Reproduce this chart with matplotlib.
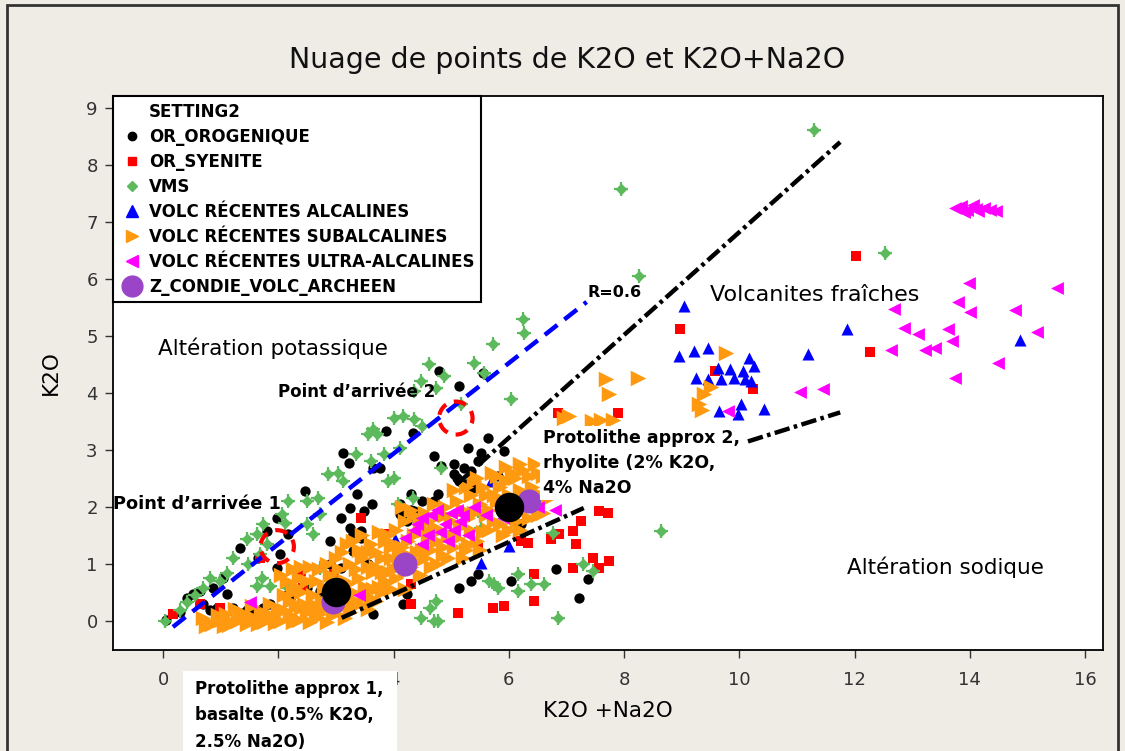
import matplotlib
matplotlib.use("Agg")
import matplotlib.pyplot as plt
from matplotlib.lines import Line2D
from matplotlib.patches import Circle, Rectangle

# ---------------- data ----------------
oro_x = [4.78, 5.55, 5.13, 4.33, 5.63, 4.70, 5.29, 5.51, 5.22, 5.04, 5.13, 5.34, 4.82, 3.13, 3.22,
         3.77, 2.47, 3.25, 3.48, 3.63, 4.30, 4.35, 4.70, 4.77, 3.30, 3.43, 4.12, 4.24, 3.08, 2.90,
         3.30, 3.55, 3.08, 2.90, 2.16, 1.81, 1.98, 1.34, 1.65, 2.03, 2.38, 1.98, 1.04, 0.87, 0.64,
         0.42, 1.11, 0.82, 1.22, 1.39, 1.57, 1.86, 2.16, 2.50, 5.13, 5.46, 3.65, 4.24, 4.17, 0.52,
         0.70, 0.94, 1.46, 1.74, 2.21, 2.73, 5.81, 5.37, 5.04, 5.10, 5.25, 6.21, 5.34, 6.03, 6.82,
         7.37, 7.22, 3.37, 3.25, 3.43, 4.12, 4.30, 4.45, 4.50, 5.46, 5.91, 3.86, 3.65, 0.05, 0.30]
oro_y = [4.39, 4.35, 4.12, 3.30, 3.21, 2.89, 3.04, 2.95, 2.68, 2.58, 2.46, 2.63, 2.72, 2.95, 2.77,
         2.68, 2.28, 1.98, 1.93, 2.05, 2.23, 1.93, 2.10, 2.23, 1.53, 1.58, 1.88, 1.75, 1.81, 1.40,
         1.23, 1.00, 0.93, 1.00, 1.53, 1.58, 1.81, 1.28, 1.11, 1.18, 0.82, 0.93, 0.75, 0.58, 0.53,
         0.40, 0.47, 0.18, 0.23, 0.14, 0.18, 0.30, 0.47, 0.58, 0.58, 0.82, 0.12, 0.47, 0.30, 0.47,
         0.30, 0.23, 0.18, 0.23, 0.40, 0.53, 2.54, 2.33, 2.75, 2.50, 2.40, 1.70, 0.70, 0.70, 0.91,
         0.74, 0.40, 2.23, 1.63, 1.46, 2.05, 1.95, 1.85, 2.10, 2.81, 2.98, 3.33, 2.68, 0.02, 0.15]

sye_x = [7.72, 7.57, 7.25, 7.11, 6.87, 6.73, 7.17, 7.46, 7.74, 7.57, 7.11, 6.43, 6.43, 5.91, 6.21,
         3.43, 3.83, 5.72, 5.11, 4.30, 4.30, 6.33, 5.46, 2.96, 1.69, 2.38, 0.99, 0.64, 0.17, 2.43,
         6.85, 7.90, 8.97, 9.57, 10.24, 12.02, 12.26]
sye_y = [1.89, 1.93, 1.75, 1.58, 1.53, 1.44, 1.35, 1.11, 1.05, 0.93, 0.93, 0.82, 0.35, 0.26, 1.40,
         1.81, 1.53, 0.23, 0.14, 0.30, 0.65, 1.37, 1.28, 0.82, 1.11, 0.79, 0.23, 0.30, 0.12, 0.58,
         3.65, 3.65, 5.12, 4.39, 4.07, 6.40, 4.72]

vms_x = [11.30, 7.95, 8.26, 12.52, 6.24, 6.26, 5.72, 5.39, 5.57, 6.03, 4.61, 4.87, 4.73, 4.47, 4.35,
         4.17, 4.00, 4.35, 4.50, 3.65, 3.55, 3.72, 4.12, 3.34, 3.60, 3.83, 2.87, 3.04, 3.13, 3.90,
         4.00, 4.82, 4.07, 4.33, 2.68, 2.50, 2.73, 2.17, 2.07, 2.12, 2.50, 2.61, 1.74, 1.63, 1.46,
         1.81, 1.69, 1.22, 1.48, 1.11, 0.99, 0.82, 0.70, 0.55, 0.42, 0.30, 0.03, 1.63, 1.86, 2.17,
         1.72, 2.73, 3.69, 6.16, 6.38, 6.61, 5.74, 6.16, 4.64, 4.70, 4.47, 4.73, 5.46, 5.51, 5.17,
         6.77, 7.46, 7.29, 8.64, 6.85, 5.65, 5.81, 4.77]
vms_y = [8.63, 7.58, 6.05, 6.46, 5.30, 5.06, 4.86, 4.53, 4.35, 3.89, 4.51, 4.30, 4.09, 4.21, 4.04,
         3.60, 3.56, 3.54, 3.42, 3.37, 3.28, 3.28, 3.04, 2.93, 2.81, 2.93, 2.58, 2.60, 2.46, 2.46,
         2.51, 2.68, 2.05, 2.16, 2.16, 2.10, 1.88, 2.10, 1.88, 1.72, 1.70, 1.53, 1.70, 1.53, 1.44,
         1.35, 1.18, 1.11, 1.00, 0.84, 0.70, 0.75, 0.58, 0.45, 0.32, 0.18, 0.00, 0.61, 0.61, 0.58,
         0.75, 0.93, 0.88, 0.82, 0.65, 0.65, 0.65, 0.53, 0.23, 0.00, 0.04, 0.35, 1.93, 1.63, 3.81,
         1.54, 0.88, 1.00, 1.58, 0.05, 0.70, 0.58, 0.00]

alc_x = [11.86, 8.96, 9.22, 9.46, 10.17, 11.20, 9.63, 9.83, 10.07, 10.26, 9.25, 9.46, 9.69, 9.90,
         10.09, 10.21, 9.65, 10.03, 9.98, 10.43, 9.04, 14.87, 5.69, 6.00, 5.51, 4.03, 4.43, 3.60]
alc_y = [5.12, 4.65, 4.74, 4.79, 4.61, 4.68, 4.44, 4.42, 4.39, 4.47, 4.26, 4.25, 4.25, 4.26,
         4.25, 4.21, 3.68, 3.81, 3.63, 3.72, 5.53, 4.93, 2.46, 1.32, 1.02, 1.44, 1.28, 1.28]

sub_x = [0.85, 1.00, 1.15, 1.30, 1.45, 1.60, 1.75, 1.90, 2.05, 2.20, 2.35, 2.50, 2.65, 2.80, 2.95,
         3.10, 3.25, 3.40, 3.55, 3.70, 1.10, 1.40, 1.70, 2.00, 2.30, 2.60, 2.90, 3.20, 3.50, 3.80,
         2.20, 2.40, 2.50, 2.60, 2.70, 2.80, 2.90, 3.00, 2.35, 3.05, 3.10, 3.20, 3.30, 3.35, 3.45,
         3.50, 3.60, 3.65, 3.75, 3.80, 3.85, 3.95, 4.00, 3.90, 3.25, 3.55, 4.05, 4.10, 4.20, 4.25,
         4.35, 4.40, 4.50, 4.55, 4.65, 4.70, 4.75, 4.85, 4.90, 4.95, 4.30, 4.60, 4.15, 5.05, 5.10,
         5.15, 5.25, 5.30, 5.40, 5.45, 5.55, 5.60, 5.70, 5.75, 5.85, 5.90, 5.95, 6.00, 5.20, 5.50,
         6.10, 6.15, 6.25, 6.30, 6.40, 6.50, 6.60, 6.70, 6.20, 6.45, 0.70, 1.25, 1.55, 1.85, 2.10,
         2.05, 2.25, 2.40, 9.77, 9.39, 9.30, 9.50, 9.35, 7.69, 7.74, 8.24, 6.96, 7.05, 7.45, 7.60,
         7.80,
         0.95, 1.20, 1.35, 1.50, 1.65, 1.80, 1.95, 2.10, 2.25, 2.40, 2.55, 2.70, 2.85, 3.00, 3.15,
         3.30, 0.75, 1.05, 2.30, 2.45, 2.55, 2.65, 2.75, 2.85, 2.95, 2.25, 2.15, 3.00, 3.10, 3.15,
         3.20, 3.30, 3.40, 3.45, 3.55, 3.60, 3.70, 3.75, 3.85, 3.90, 3.95, 3.40, 3.70, 3.95, 4.00,
         4.05, 4.15, 4.20, 4.30, 4.35, 4.45, 4.45, 4.55, 4.60, 4.70, 4.75, 4.80, 4.85, 4.90, 4.95,
         4.55, 4.25, 5.00, 5.05, 5.10, 5.20, 5.25, 5.35, 5.35, 5.45, 5.50, 5.55, 5.65, 5.65, 5.80,
         5.80, 5.85, 5.95, 6.00, 5.40, 5.75, 6.05, 6.05, 6.20, 6.35, 6.35, 6.55, 6.60, 6.75, 6.50,
         6.20,
         3.35, 3.65, 3.80, 4.10, 4.40, 4.65, 4.80, 5.00, 5.30, 5.60, 5.90, 6.25, 3.05, 2.60, 4.20]
sub_y = [-0.05, 0.02, -0.08, 0.00, -0.05, 0.05, -0.02, 0.08, 0.00, 0.10, 0.02, 0.15, 0.05, 0.20, 0.10,
         0.25, 0.15, 0.30, 0.20, 0.35, 0.12, 0.10, 0.15, 0.20, 0.25, 0.30, 0.35, 0.40, 0.45, 0.50,
         0.35, 0.50, 0.70, 0.45, 0.90, 0.60, 0.80, 0.50, 0.75, 0.90, 1.20, 0.65, 1.40, 0.90, 1.10,
         0.60, 1.35, 0.85, 1.55, 1.10, 0.70, 1.30, 0.90, 1.50, 1.00, 1.20, 1.60, 1.15, 0.85, 1.40,
         1.85, 1.05, 1.25, 1.60, 0.95, 2.05, 1.40, 1.15, 1.85, 1.50, 1.95, 1.75, 2.00, 1.30, 2.10,
         1.65, 2.35, 1.35, 1.90, 2.50, 1.55, 2.20, 2.60, 1.75, 2.35, 1.50, 2.70, 2.20, 1.10, 1.25,
         2.50, 1.75, 2.65, 2.05, 2.35, 1.85, 2.55, 2.15, 1.60, 2.75, 0.05, 0.20, 0.25, 0.30, 0.45,
         0.80, 0.90, 0.95, 4.70, 3.98, 3.80, 4.10, 3.70, 4.25, 3.98, 4.26, 3.56, 3.60, 3.50, 3.52,
         3.52,
         0.10, -0.02, 0.15, 0.02, -0.06, 0.12, -0.04, 0.18, -0.02, 0.22, -0.03, 0.12, -0.02, 0.18, 0.05,
         0.30, -0.10, -0.10, 0.60, 0.30, 0.95, 0.70, 0.35, 1.00, 0.75, 0.50, 0.70, 1.10, 0.30, 0.70,
         1.35, 0.50, 0.75, 1.50, 0.95, 0.40, 1.20, 0.60, 1.40, 0.85, 0.55, 1.25, 0.95, 1.10, 1.35,
         0.75, 1.30, 1.75, 0.95, 1.50, 0.80, 1.70, 1.10, 1.40, 1.65, 1.00, 1.85, 1.30, 2.00, 1.10,
         1.90, 1.15, 1.75, 2.30, 1.45, 1.95, 1.25, 2.20, 1.60, 1.40, 2.05, 2.35, 1.60, 1.95, 2.10,
         2.55, 1.70, 2.45, 1.60, 2.45, 2.20, 2.00, 2.60, 2.30, 1.80, 2.55, 2.20, 1.90, 2.50, 2.60,
         2.75,
         0.35, 0.55, 0.85, 1.00, 1.20, 1.25, 1.60, 1.50, 1.80, 1.85, 2.05, 2.20, 0.25, 0.20, 0.55]

ult_x = [13.75, 13.85, 13.95, 14.05, 14.15, 14.25, 14.35, 14.45, 13.90, 14.10, 13.98, 15.51, 13.79,
         14.00, 14.78, 12.68, 12.85, 13.10, 13.62, 13.69, 13.40, 13.23, 15.17, 12.64, 14.49, 13.74,
         11.05, 11.45, 9.81, 4.35, 4.50, 4.60, 4.75, 4.90, 5.05, 5.20, 5.30, 4.50, 5.00, 5.60, 5.90,
         6.50, 6.80, 3.40, 1.50, 5.40, 4.40, 4.65, 4.80, 5.15, 4.95, 4.20, 5.10]
ult_y = [7.25, 7.28, 7.22, 7.30, 7.20, 7.25, 7.22, 7.20, 7.18, 7.24, 5.93, 5.84, 5.60,
         5.42, 5.46, 5.47, 5.14, 5.04, 5.12, 4.91, 4.79, 4.75, 5.07, 4.75, 4.53, 4.26,
         4.02, 4.07, 3.68, 1.60, 1.80, 1.50, 1.95, 1.70, 1.60, 1.85, 1.50, 1.35, 1.90, 1.85, 1.80,
         2.00, 1.95, 0.45, 0.32, 2.00, 1.70, 1.85, 1.55, 1.75, 1.40, 1.45, 1.95]

condie_x = [2.95, 4.20, 6.35]
condie_y = [0.33, 1.00, 2.10]

# protoliths: basalt (0.5% K2O, 2.5% Na2O) and rhyolite (2% K2O, 4% Na2O)
proto_x = [0.5 + 2.5, 2.0 + 4.0]
proto_y = [0.5, 2.0]

# end points reached by alteration
arrival_x = [1.98, 5.08]
arrival_y = [1.30, 3.56]

# trend lines
blue_x = [0.17, 7.35]
blue_y = [-0.11, 5.60]
upper_x = [5.10, 11.75]
upper_y = [2.40, 8.41]
lower_a_x = [3.10, 7.30]
lower_a_y = [0.05, 1.98]
lower_b_x = [10.15, 11.75]
lower_b_y = [3.15, 3.66]

x_ticks = [0, 2, 4, 6, 8, 10, 12, 14, 16]
y_ticks = [0, 1, 2, 3, 4, 5, 6, 7, 8, 9]

legend_labels = ["OR_OROGENIQUE", "OR_SYENITE", "VMS", "VOLC RÉCENTES ALCALINES",
                 "VOLC RÉCENTES SUBALCALINES", "VOLC RÉCENTES ULTRA-ALCALINES",
                 "Z_CONDIE_VOLC_ARCHEEN"]

# ---------------- styling ----------------
C_BLACK = "#000000"
C_RED = "#ff0000"
C_GREEN = "#5cba5c"
C_BLUE = "#0000ff"
C_ORANGE = "#ff9a10"
C_MAGENTA = "#ff00ff"
C_PURPLE = "#9a45c8"
DASH_BLACK = (0, (3.5, 1.0, 0.8, 1.0))

fig = plt.figure(figsize=(11.25, 7.51), dpi=100)
fig.patch.set_facecolor("#efece6")
ax = fig.add_axes([0.1004, 0.1345, 0.8800, 0.7377])
ax.set_facecolor("white")

ax.scatter(oro_x, oro_y, s=55, marker="o", color=C_BLACK, linewidths=0, zorder=3)
ax.scatter(sye_x, sye_y, s=45, marker="s", color=C_RED, linewidths=0, zorder=3)
ax.scatter(vms_x, vms_y, s=36, marker="D", color=C_GREEN, linewidths=0, zorder=3)
ax.scatter(vms_x, vms_y, s=95, marker="+", color=C_GREEN, linewidths=1.6, zorder=3)
ax.scatter(alc_x, alc_y, s=75, marker="^", color=C_BLUE, linewidths=0, zorder=4)
ax.scatter(sub_x, sub_y, s=125, marker=">", color=C_ORANGE, linewidths=0, zorder=4)
ax.scatter(ult_x, ult_y, s=85, marker="<", color=C_MAGENTA, linewidths=0, zorder=5)
ax.scatter(condie_x, condie_y, s=300, marker="o", color=C_PURPLE, linewidths=0, zorder=6)
ax.scatter(proto_x, proto_y, s=450, marker="o", color=C_BLACK, linewidths=0, zorder=7)

# trend lines
ax.plot(blue_x, blue_y, color=C_BLUE, lw=3.2, ls=(0, (3.6, 2.0)), zorder=8)
ax.plot(upper_x, upper_y, color=C_BLACK, lw=3.2, ls=DASH_BLACK, zorder=8)
ax.plot(lower_a_x, lower_a_y, color=C_BLACK, lw=3.2, ls=DASH_BLACK, zorder=8)
ax.plot(lower_b_x, lower_b_y, color=C_BLACK, lw=3.2, ls=DASH_BLACK, zorder=8)

# arrival circles
for cx, cy in zip(arrival_x, arrival_y):
    ax.add_patch(Circle((cx, cy), 0.29, fill=False, edgecolor=C_RED, lw=3,
                        ls=(0, (3, 2)), zorder=9))

ax.set_xlim(-0.87, 16.31)
ax.set_ylim(-0.515, 9.22)
ax.set_xticks(x_ticks)
ax.set_yticks(y_ticks)
ax.tick_params(axis="both", direction="out", length=6, width=1.0, colors="#333333",
               labelsize=13)
ax.tick_params(axis="x", pad=9)
ax.tick_params(axis="y", pad=5)
for sp in ax.spines.values():
    sp.set_color("black")
    sp.set_linewidth(1.3)

ax.set_xlabel("K2O +Na2O", fontsize=15.5, labelpad=9)
ax.set_ylabel("K2O", fontsize=15.5, labelpad=18)
fig.text(0.504, 0.920, "Nuage de points de K2O et K2O+Na2O", ha="center", va="center",
         fontsize=20.5, color="#111111")

# annotations
ax.text(-0.09, 4.79, "Altération potassique", fontsize=15.5, ha="left", va="center", zorder=10)
ax.text(1.99, 4.02, "Point d\u2019arrivée 2", fontsize=12, fontweight="bold",
        ha="left", va="center", zorder=10)
ax.text(-0.87, 2.05, "Point d\u2019arrivée 1", fontsize=12.8, fontweight="bold",
        ha="left", va="center", zorder=10)
ax.text(7.37, 5.76, "R=0.6", fontsize=11.5, fontweight="bold", ha="left", va="center",
        zorder=10)
ax.text(9.49, 5.72, "Volcanites fraîches", fontsize=16, ha="left", va="center", zorder=10)
ax.text(6.59, 3.37, "Protolithe approx 2,\nrhyolite (2% K2O,\n4% Na2O", fontsize=12.5,
        fontweight="bold", ha="left", va="top", linespacing=1.5, zorder=10,
        bbox=dict(facecolor="white", edgecolor="none", pad=2))
ax.text(11.87, 0.94, "Altération sodique", fontsize=15.5, ha="left", va="center", zorder=10)

# legend
handles = [Line2D([], [], ls="none", marker="")]
handles += [
    Line2D([], [], ls="none", marker="o", color=C_BLACK, markersize=6),
    Line2D([], [], ls="none", marker="s", color=C_RED, markersize=6),
    Line2D([], [], ls="none", marker="D", color=C_GREEN, markersize=5.5),
    Line2D([], [], ls="none", marker="^", color=C_BLUE, markersize=8),
    Line2D([], [], ls="none", marker=">", color=C_ORANGE, markersize=8),
    Line2D([], [], ls="none", marker="<", color=C_MAGENTA, markersize=8),
    Line2D([], [], ls="none", marker="o", color=C_PURPLE, markersize=15),
]
leg = ax.legend(handles, ["SETTING2"] + legend_labels, loc="upper left",
                bbox_to_anchor=(0.0, 1.0), borderaxespad=0.0,
                prop={"size": 12, "weight": "bold"},
                labelspacing=0.42, handlelength=1.5, handletextpad=0.25,
                borderpad=0.4, frameon=True, fancybox=False, framealpha=1.0)
leg.get_frame().set_edgecolor("black")
leg.get_frame().set_linewidth(1.5)
leg.set_zorder(20)

# white note box under the axis
fig.patches.append(Rectangle((183 / 1125, 0.0), 214 / 1125, 1 - 671 / 751,
                             transform=fig.transFigure, facecolor="white",
                             edgecolor="none", zorder=30))
fig.text(195 / 1125, 1 - 680 / 751, "Protolithe approx 1,\nbasalte (0.5% K2O,\n2.5% Na2O)",
         fontsize=12, fontweight="bold", ha="left", va="top", linespacing=1.6, zorder=31)

# outer frame
fig.patches.append(Rectangle((7 / 1125, -0.01), 1111 / 1125, 1.0 - 5 / 751 + 0.01,
                             transform=fig.transFigure, fill=False, edgecolor="#333333",
                             lw=2.0, zorder=40))

fig.savefig("out.png", dpi=100, facecolor=fig.get_facecolor())
